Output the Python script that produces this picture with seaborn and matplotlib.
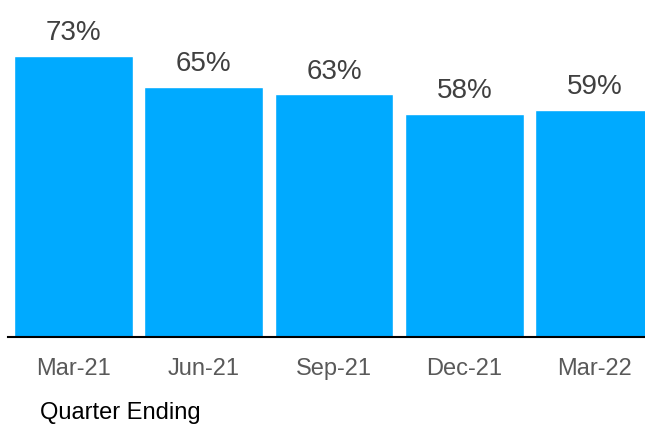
import matplotlib
matplotlib.use("Agg")
import matplotlib.pyplot as plt
import seaborn as sns
import pandas as pd

quarters = ["Mar-21", "Jun-21", "Sep-21", "Dec-21", "Mar-22"]
values = [73, 65, 63, 58, 59]
labels = ["73%", "65%", "63%", "58%", "59%"]

sns.set_theme(style="white")
plt.rcParams["font.family"] = ["Liberation Sans", "DejaVu Sans"]

df = pd.DataFrame({"quarter": quarters, "value": values})

fig = plt.figure(figsize=(6.45, 4.25), dpi=100)
ax = fig.add_axes([8 / 645, 88 / 425, 652 / 645, 337 / 425])

sns.barplot(data=df, x="quarter", y="value", color="#00AAFF", saturation=1,
            width=0.91, ax=ax)

for i, (v, lab) in enumerate(zip(values, labels)):
    ax.annotate(lab, (i, v), xytext=(0, 7), textcoords="offset points",
                ha="center", va="bottom", fontsize=20, color="#404040")

ax.set_ylim(0, 87.5)
ax.set_xlim(-0.5, 4.5)
ax.set_yticks([])
ax.set_xlabel("")
ax.set_ylabel("")
for s in ["top", "right", "left"]:
    ax.spines[s].set_visible(False)
ax.spines["bottom"].set_color("black")
ax.spines["bottom"].set_linewidth(1.5)
ax.tick_params(axis="x", length=0, pad=15, labelsize=17, labelcolor="#595959")

fig.text(40 / 645, 1 / 425, "Quarter Ending", fontsize=17, color="black",
         ha="left", va="bottom")

fig.savefig("out.png", dpi=100)
